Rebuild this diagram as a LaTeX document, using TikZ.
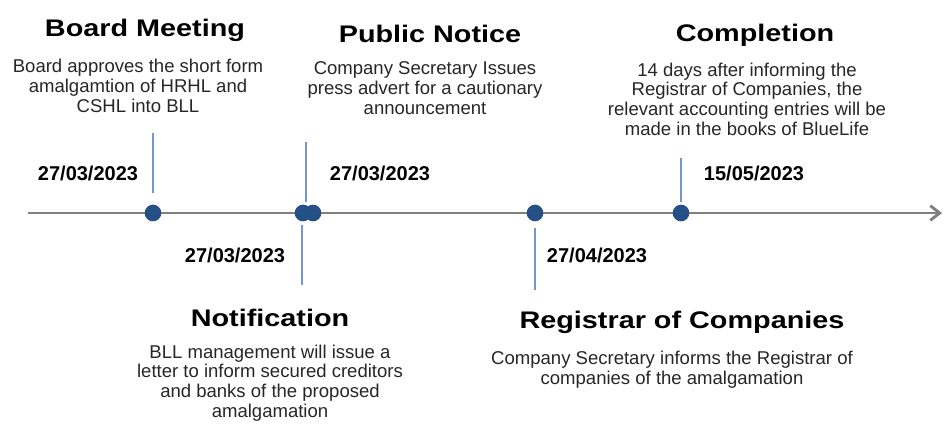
\documentclass[tikz,border=0pt]{standalone}
\usepackage{fontspec}
\setmainfont{Liberation Sans}
\usetikzlibrary{arrows.meta}

\definecolor{axisgray}{RGB}{128,128,128}
\definecolor{dotblue}{RGB}{36,80,134}
\definecolor{tickblue}{RGB}{118,148,206}
\definecolor{bodygray}{RGB}{38,38,38}

\tikzset{
  title/.style={font=\bfseries\fontsize{18}{20}\selectfont, xscale=1.2},
  body/.style={font=\fontsize{13.9}{14.8}\selectfont, text=bodygray, align=center, inner sep=0pt},
  datelabel/.style={font=\bfseries\fontsize{15}{17}\selectfont, inner sep=0pt},
  event/.style={circle, fill=dotblue, inner sep=0pt, minimum size=12.5},
  tick/.style={draw=tickblue, line width=1pt}
}

\begin{document}
\begin{tikzpicture}[x=0.75pt, y=-0.75pt]
    \useasboundingbox (0,0) rectangle (944,426);

    % time axis
    \coordinate (start) at (28,213);
    \coordinate (end) at (942,213);
    \draw[axisgray, line width=2.2pt, -{Straight Barb[length=7pt, width=11pt]}] (start) -- (end);

    % events on the axis
    \node[event] (board) at (153,213) {};
    \node[event] (notif) at (303,213) {};
    \node[event] (public) at (313,213) {};
    \node[event] (registrar) at (535,213) {};
    \node[event] (complete) at (681,213) {};

    % tick ends
    \coordinate (boardtop) at (153,133);
    \coordinate (boardbot) at (153,193);
    \coordinate (publictop) at (306,142);
    \coordinate (publicbot) at (306,202);
    \coordinate (notiftop) at (302,225);
    \coordinate (notifbot) at (302,285);
    \coordinate (regtop) at (535,228);
    \coordinate (regbot) at (535,290);
    \coordinate (comptop) at (681,158);
    \coordinate (compbot) at (681,202);

    \draw[tick] (boardtop) -- (boardbot);
    \draw[tick] (publictop) -- (publicbot);
    \draw[tick] (notiftop) -- (notifbot);
    \draw[tick] (regtop) -- (regbot);
    \draw[tick] (comptop) -- (compbot);

    % dates
    \node[datelabel] (boarddate) at (88,173) {27/03/2023};
    \node[datelabel] (publicdate) at (380,173) {27/03/2023};
    \node[datelabel] (notifdate) at (235,255) {27/03/2023};
    \node[datelabel] (regdate) at (597,255) {27/04/2023};
    \node[datelabel] (compdate) at (754,173) {15/05/2023};

    % Board Meeting
    \node[title] (boardtitle) at (145,30) {Board Meeting};
    \node[body] (boardtext) at (138,86) {Board approves the short form\\amalgamtion of HRHL and\\CSHL into BLL};

    % Public Notice
    \node[title] (publictitle) at (430,34) {Public Notice};
    \node[body] (publictext) at (425,88) {Company Secretary Issues\\press advert for a cautionary\\announcement};

    % Notification
    \node[title] (notiftitle) at (270,318) {Notification};
    \node[body] (notiftext) at (270,383) {BLL management will issue a\\letter to inform secured creditors\\and banks of the proposed\\amalgamation};

    % Registrar of Companies
    \node[title] (regtitle) at (682,322) {Registrar of Companies};
    \node[body] (regtext) at (672,370) {Company Secretary informs the Registrar of\\companies of the amalgamation};

    % Completion
    \node[title] (comptitle) at (755,35) {Completion};
    \node[body] (comptext) at (747,99) {14 days after informing the\\Registrar of Companies, the\\relevant accounting entries will be\\made in the books of BlueLife};

\end{tikzpicture}
\end{document}
